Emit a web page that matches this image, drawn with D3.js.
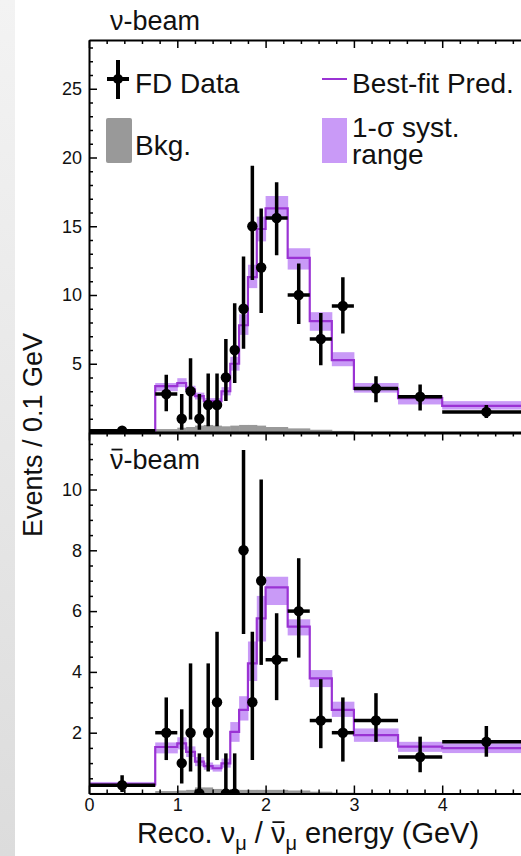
<!DOCTYPE html>
<html>
<head>
<meta charset="utf-8">
<script src="https://cdn.jsdelivr.net/npm/d3@7"></script>
<style>
  html, body { margin: 0; padding: 0; background: #fff; }
  svg { display: block; font-family: "Liberation Sans", Arial, sans-serif; }
</style>
</head>
<body>
<div id="chart"></div>
<script>
// Bin edges (GeV), shared by both panels
const binEdges = [0, 0.75, 1.0, 1.1, 1.2, 1.3, 1.4, 1.5, 1.6, 1.7, 1.8, 1.9, 2.0, 2.25, 2.5, 2.75, 3.0, 3.5, 4.0, 5.0];

// nu-beam panel (events / 0.1 GeV)
const nuData   = [0.13, 2.8, 1, 3, 1, 2, 2, 4, 6, 9, 15, 12, 15.6, 10, 6.8, 9.2, 3.2, 2.6, 1.5];
const nuErrLo  = [0.02, 1.55, 0.2, 0.95, 0.2, 0.46, 0.46, 2.3, 3.6, 6.1, 11.1, 8.7, 12.9, 7.9, 4.9, 7.2, 2.2, 1.6, 1.05];
const nuErrHi  = [0.3, 4.2, 2.8, 5.4, 2.8, 4.3, 4.3, 6.8, 9.4, 12.8, 19.4, 16.3, 18.2, 12.3, 8.7, 11.3, 4.1, 3.5, 2.0];
const nuPred   = [0.15, 3.37, 3.6, 3.13, 2.64, 2.28, 2.28, 3.0, 5.0, 7.8, 11.3, 14.8, 16.3, 12.7, 8.1, 5.26, 3.18, 2.5, 1.93];
const nuBandLo = [0.1, 3.0, 3.3, 2.85, 2.4, 2.05, 2.05, 2.7, 4.5, 7.1, 10.5, 13.9, 15.7, 11.85, 7.4, 4.82, 2.9, 2.04, 1.67];
const nuBandHi = [0.2, 3.6, 3.95, 3.4, 2.9, 2.5, 2.5, 3.3, 5.5, 8.6, 12.2, 15.7, 17.2, 13.4, 8.75, 5.84, 3.6, 2.7, 2.28];
const nuBkg    = [0.05, 0.25, 0.35, 0.4, 0.5, 0.55, 0.5, 0.45, 0.5, 0.55, 0.55, 0.5, 0.4, 0.3, 0.2, 0.12, 0.05, 0.03, 0.02];

// nubar-beam panel
const nubarData   = [0.27, 2.0, 1.0, 2.0, 0, 2.0, 3.0, 0, 0, 8.0, 3.0, 7.0, 4.4, 6.0, 2.4, 2.0, 2.4, 1.2, 1.7];
const nubarErrLo  = [0.05, 1.1, 0.33, 0.72, 0, 0.72, 1.1, 0, 0, 5.25, 1.1, 4.23, 3.07, 4.47, 1.49, 1.05, 1.7, 0.7, 1.21];
const nubarErrHi  = [0.6, 3.16, 2.77, 4.28, 1.32, 4.28, 5.32, 1.32, 1.32, 11.3, 5.32, 10.33, 5.93, 7.74, 3.76, 3.16, 3.3, 1.87, 2.22];
const nubarPred   = [0.3, 1.53, 1.65, 1.37, 1.05, 0.9, 0.83, 0.99, 2.03, 2.75, 4.28, 5.76, 6.78, 5.49, 3.79, 2.75, 1.92, 1.54, 1.49];
const nubarBandLo = [0.22, 1.32, 1.45, 1.2, 0.9, 0.78, 0.72, 0.85, 1.7, 2.4, 3.7, 5.0, 6.2, 5.2, 3.5, 2.52, 1.7, 1.37, 1.33];
const nubarBandHi = [0.38, 1.68, 1.85, 1.55, 1.2, 1.02, 0.95, 1.15, 2.35, 3.2, 5.0, 6.5, 7.13, 5.73, 4.06, 3.02, 2.14, 1.7, 1.65];
const nubarBkg    = [0.02, 0.08, 0.1, 0.12, 0.2, 0.2, 0.15, 0.12, 0.12, 0.12, 0.12, 0.12, 0.12, 0.1, 0.06, 0.03, 0.02, 0.01, 0.01];

// Ticks
const xMajorTicks = [0, 1, 2, 3, 4, 5];
const xTickLabels = [0, 1, 2, 3, 4];
const nuYTicks = [5, 10, 15, 20, 25];
const nubarYTicks = [2, 4, 6, 8, 10];

const colors = {
  data: '#000',
  bkg: '#999999',
  pred: '#9a33d4',
  band: '#c99af7',
  axis: '#000',
  text: '#111'
};

const width = 521;
const height = 856;
const plotLeft = 89;
const plotTop = 40;
const divY = 432.5;
const plotBottom = 793.5;
const font = '"Liberation Sans", Arial, sans-serif';

const svg = d3.select('#chart')
  .append('svg')
  .attr('width', width)
  .attr('height', height);

// left grey strip (slide background)
const grad = svg.append('defs').append('linearGradient')
  .attr('id', 'strip').attr('x1', 0).attr('y1', 0).attr('x2', 0).attr('y2', 1);
grad.append('stop').attr('offset', '0%').attr('stop-color', '#f3f3f3');
grad.append('stop').attr('offset', '100%').attr('stop-color', '#dcdcdc');
svg.append('rect')
  .attr('x', 0).attr('y', 0).attr('width', 15).attr('height', height)
  .attr('fill', 'url(#strip)');

// Scales
const x = d3.scaleLinear().domain([0, 5]).range([plotLeft, plotLeft + 5 * 88.3]);
const yTop = d3.scaleLinear().domain([0, (divY - plotTop) / 13.75]).range([divY, plotTop]);
const yBot = d3.scaleLinear().domain([0, (plotBottom - divY) / 30.4]).range([plotBottom, divY]);

const bins = binEdges.slice(0, -1).map((lo, i) => ({ lo, hi: binEdges[i + 1], i }));

function drawPanel(y, top, bottom, s, clipId) {
  svg.append('clipPath').attr('id', clipId)
    .append('rect')
    .attr('x', plotLeft).attr('y', top)
    .attr('width', width - plotLeft).attr('height', bottom - top);

  const g = svg.append('g').attr('clip-path', `url(#${clipId})`);

  // background histogram
  g.selectAll('.bkg')
    .data(bins)
    .enter()
    .append('rect')
    .attr('x', d => x(d.lo))
    .attr('width', d => x(d.hi) - x(d.lo) + 0.5)
    .attr('y', d => y(s.bkg[d.i]))
    .attr('height', d => y(0) - y(s.bkg[d.i]))
    .attr('fill', colors.bkg);

  // 1-sigma band
  g.selectAll('.band')
    .data(bins)
    .enter()
    .append('rect')
    .attr('x', d => x(d.lo))
    .attr('width', d => x(d.hi) - x(d.lo) + 0.5)
    .attr('y', d => y(s.bandHi[d.i]))
    .attr('height', d => y(s.bandLo[d.i]) - y(s.bandHi[d.i]))
    .attr('fill', colors.band);

  // best-fit prediction step line
  const stepPts = bins.map(d => [d.lo, s.pred[d.i]]);
  stepPts.push([binEdges[binEdges.length - 1], s.pred[s.pred.length - 1]]);
  g.append('path')
    .datum(stepPts)
    .attr('fill', 'none')
    .attr('stroke', colors.pred)
    .attr('stroke-width', 2.2)
    .attr('d', d3.line().x(d => x(d[0])).y(d => y(d[1])).curve(d3.curveStepAfter));

  // data: horizontal bin bars
  g.selectAll('.xerr')
    .data(bins)
    .enter()
    .append('line')
    .attr('x1', d => x(d.lo))
    .attr('x2', d => x(d.hi))
    .attr('y1', d => y(s.data[d.i]))
    .attr('y2', d => y(s.data[d.i]))
    .attr('stroke', colors.data)
    .attr('stroke-width', 3.5);

  // data: vertical error bars
  g.selectAll('.yerr')
    .data(bins)
    .enter()
    .append('line')
    .attr('x1', d => x((d.lo + d.hi) / 2))
    .attr('x2', d => x((d.lo + d.hi) / 2))
    .attr('y1', d => y(s.errLo[d.i]))
    .attr('y2', d => y(s.errHi[d.i]))
    .attr('stroke', colors.data)
    .attr('stroke-width', 3.5);

  // data points
  g.selectAll('.pt')
    .data(bins)
    .enter()
    .append('circle')
    .attr('cx', d => x((d.lo + d.hi) / 2))
    .attr('cy', d => y(s.data[d.i]))
    .attr('r', 5.2)
    .attr('fill', colors.data);
}

drawPanel(yTop, plotTop, divY, {
  data: nuData, errLo: nuErrLo, errHi: nuErrHi,
  pred: nuPred, bandLo: nuBandLo, bandHi: nuBandHi, bkg: nuBkg
}, 'clip-top');

drawPanel(yBot, divY, plotBottom, {
  data: nubarData, errLo: nubarErrLo, errHi: nubarErrHi,
  pred: nubarPred, bandLo: nubarBandLo, bandHi: nubarBandHi, bkg: nubarBkg
}, 'clip-bot');

// ============================================
// AXES
// ============================================

const xMinor = d3.range(0, 5.01, 0.2).filter(v => Math.abs(v - Math.round(v)) > 0.01);

function styleAxis(sel, stroke) {
  sel.selectAll('path').attr('stroke', colors.axis).attr('stroke-width', stroke || 2);
  sel.selectAll('line').attr('stroke', colors.axis).attr('stroke-width', 1.5);
  sel.selectAll('text')
    .attr('fill', colors.text)
    .attr('font-size', '18px')
    .attr('font-family', font);
}

// Horizontal axes: top frame, divider, bottom
[[plotTop, 'top'], [divY, 'div'], [plotBottom, 'bottom']].forEach(([yy, kind]) => {
  const major = (kind === 'bottom' ? d3.axisBottom(x) : d3.axisTop(x))
    .tickValues(xMajorTicks)
    .tickSizeInner(-8)
    .tickSizeOuter(0)
    .tickPadding(5)
    .tickFormat(d => (kind === 'bottom' && xTickLabels.includes(d)) ? d3.format('d')(d) : '');
  const ga = svg.append('g')
    .attr('transform', `translate(0,${yy})`)
    .call(major);
  styleAxis(ga, kind === 'div' ? 3 : 2);

  const minor = (kind === 'bottom' ? d3.axisBottom(x) : d3.axisTop(x))
    .tickValues(xMinor)
    .tickSizeInner(-4)
    .tickSizeOuter(0)
    .tickFormat('');
  const gm = svg.append('g')
    .attr('transform', `translate(0,${yy})`)
    .call(minor);
  gm.select('path').remove();
  styleAxis(gm);
});

// Left axes
function leftAxis(y, majors, minorStep, maxV) {
  const ga = svg.append('g')
    .attr('transform', `translate(${plotLeft},0)`)
    .call(d3.axisLeft(y).tickValues(majors).tickSizeInner(-8).tickSizeOuter(0).tickPadding(7));
  styleAxis(ga);
  const minors = d3.range(minorStep, maxV, minorStep).filter(v => !majors.includes(v));
  const gm = svg.append('g')
    .attr('transform', `translate(${plotLeft},0)`)
    .call(d3.axisLeft(y).tickValues(minors).tickSizeInner(-4).tickSizeOuter(0).tickFormat(''));
  gm.select('path').remove();
  styleAxis(gm);
}
leftAxis(yTop, nuYTicks, 1, yTop.domain()[1]);
leftAxis(yBot, nubarYTicks, 0.5, yBot.domain()[1]);

// ============================================
// TEXT
// ============================================

// draws a bar over one character of a text element (anti-neutrino)
function overbar(textSel, charIndex, fontSize) {
  const box = textSel.node().getExtentOfChar(charIndex);
  const baseY = +textSel.attr('y');
  svg.append('line')
    .attr('x1', box.x + 1.5)
    .attr('x2', box.x + box.width - 1)
    .attr('y1', baseY - fontSize * 0.72)
    .attr('y2', baseY - fontSize * 0.72)
    .attr('stroke', colors.text)
    .attr('stroke-width', 1.8);
}

svg.append('text')
  .attr('x', 110).attr('y', 30)
  .attr('font-size', '27px').attr('font-family', font).attr('fill', colors.text)
  .text('ν-beam');

const barBeam = svg.append('text')
  .attr('x', 110).attr('y', 469)
  .attr('font-size', '27px').attr('font-family', font).attr('fill', colors.text)
  .text('ν-beam');
overbar(barBeam, 0, 27);

svg.append('text')
  .attr('transform', 'translate(42,435) rotate(-90)')
  .attr('text-anchor', 'middle')
  .attr('font-size', '27px').attr('font-family', font).attr('fill', colors.text)
  .text('Events / 0.1 GeV');

const xLabel = svg.append('text')
  .attr('x', 308).attr('y', 843)
  .attr('text-anchor', 'middle')
  .attr('font-size', '29px').attr('font-family', font).attr('fill', colors.text);
xLabel.append('tspan').text('Reco. ν');
xLabel.append('tspan').attr('font-size', '20px').attr('dy', 7).text('μ');
xLabel.append('tspan').attr('dy', -7).text(' / ν');
xLabel.append('tspan').attr('font-size', '20px').attr('dy', 7).text('μ');
xLabel.append('tspan').attr('dy', -7).text(' energy (GeV)');
overbar(xLabel, 11, 29);

// ============================================
// LEGEND
// ============================================

const leg = svg.append('g');

leg.append('line')
  .attr('x1', 118).attr('x2', 118).attr('y1', 60).attr('y2', 99)
  .attr('stroke', colors.data).attr('stroke-width', 4);
leg.append('line')
  .attr('x1', 107).attr('x2', 129).attr('y1', 79).attr('y2', 79)
  .attr('stroke', colors.data).attr('stroke-width', 4);
leg.append('circle')
  .attr('cx', 118).attr('cy', 79).attr('r', 5).attr('fill', colors.data);
leg.append('text')
  .attr('x', 135).attr('y', 93)
  .attr('font-size', '28px').attr('font-family', font).attr('fill', colors.text)
  .text('FD Data');

leg.append('rect')
  .attr('x', 106).attr('y', 118).attr('width', 26).attr('height', 45).attr('rx', 2)
  .attr('fill', colors.bkg);
leg.append('text')
  .attr('x', 135).attr('y', 155)
  .attr('font-size', '28px').attr('font-family', font).attr('fill', colors.text)
  .text('Bkg.');

leg.append('line')
  .attr('x1', 322).attr('x2', 347).attr('y1', 79).attr('y2', 79)
  .attr('stroke', colors.pred).attr('stroke-width', 2);
leg.append('text')
  .attr('x', 352).attr('y', 93)
  .attr('font-size', '28px').attr('font-family', font).attr('fill', colors.text)
  .text('Best-fit Pred.');

leg.append('rect')
  .attr('x', 322).attr('y', 118).attr('width', 25).attr('height', 45)
  .attr('fill', colors.band);
const sysText = leg.append('text')
  .attr('x', 352).attr('y', 137)
  .attr('font-size', '28px').attr('font-family', font).attr('fill', colors.text);
sysText.append('tspan').attr('x', 352).text('1-σ syst.');
sysText.append('tspan').attr('x', 352).attr('dy', 27).text('range');
</script>
</body>
</html>
